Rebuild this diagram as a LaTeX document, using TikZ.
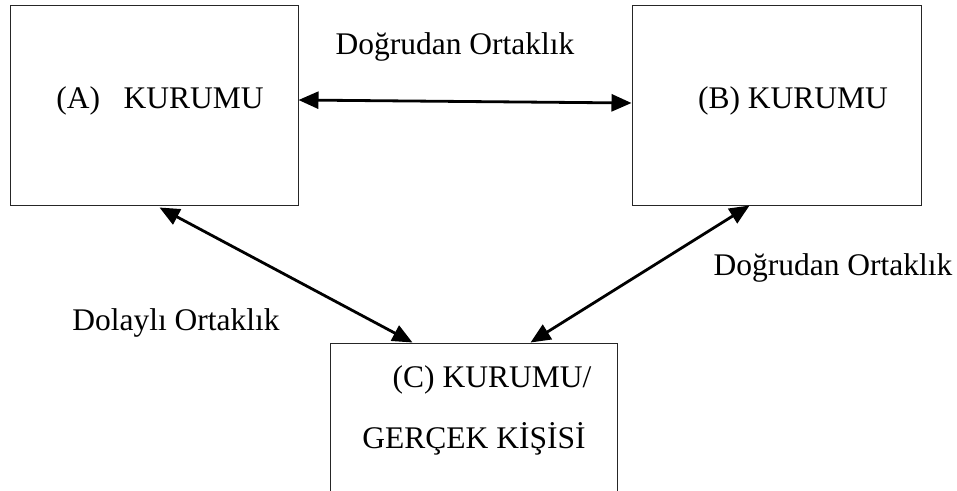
\documentclass[tikz,border=0pt]{standalone}
\usepackage{fontspec}
\setmainfont{Liberation Serif}
\usetikzlibrary{arrows.meta}
\begin{document}
\begin{tikzpicture}[x=1pt,y=-1pt,
  box/.style={draw=black!85,line width=1pt,fill=none,inner sep=0pt},
  lbl/.style={anchor=base,inner sep=0pt,font=\fontsize{31.5}{38}\selectfont},
  link/.style={line width=2.8pt,{Triangle[length=20pt,width=17pt]}-{Triangle[length=20pt,width=17pt]}}]
  \clip (0,0) rectangle (957,490);
  \fill[white] (0,0) rectangle (957,490);
  % the three boxes
  \node[box,minimum width=288pt,minimum height=200pt] (A) at (154,105) {};
  \node[box,minimum width=289pt,minimum height=200pt] (B) at (776.5,105) {};
  \node[box,minimum width=287pt,minimum height=170pt] (C) at (473.5,428) {};
  % box captions
  \node[lbl] (tA) at (160,108) {(A)\ \ \ KURUMU};
  \node[lbl] (tB) at (793,108) {(B) KURUMU};
  \node[lbl] (tC1) at (492,387) {(C) KURUMU/};
  \node[lbl] (tC2) at (474,448) {GERÇEK KİŞİSİ};
  % relation labels
  \node[lbl] (l1) at (455,54) {Doğrudan Ortaklık};
  \node[lbl] (l2) at (833,275) {Doğrudan Ortaklık};
  \node[lbl] (l3) at (176,330) {Dolaylı Ortaklık};
  % connectors
  \draw[link] ([yshift=5pt]A.east) -- ([yshift=2pt]B.west);
  \draw[link] ([xshift=150pt,yshift=-2pt]A.south west) -- ([xshift=83pt]C.north west);
  \draw[link] ([xshift=118pt]B.south west) -- ([xshift=201pt]C.north west);
\end{tikzpicture}
\end{document}
